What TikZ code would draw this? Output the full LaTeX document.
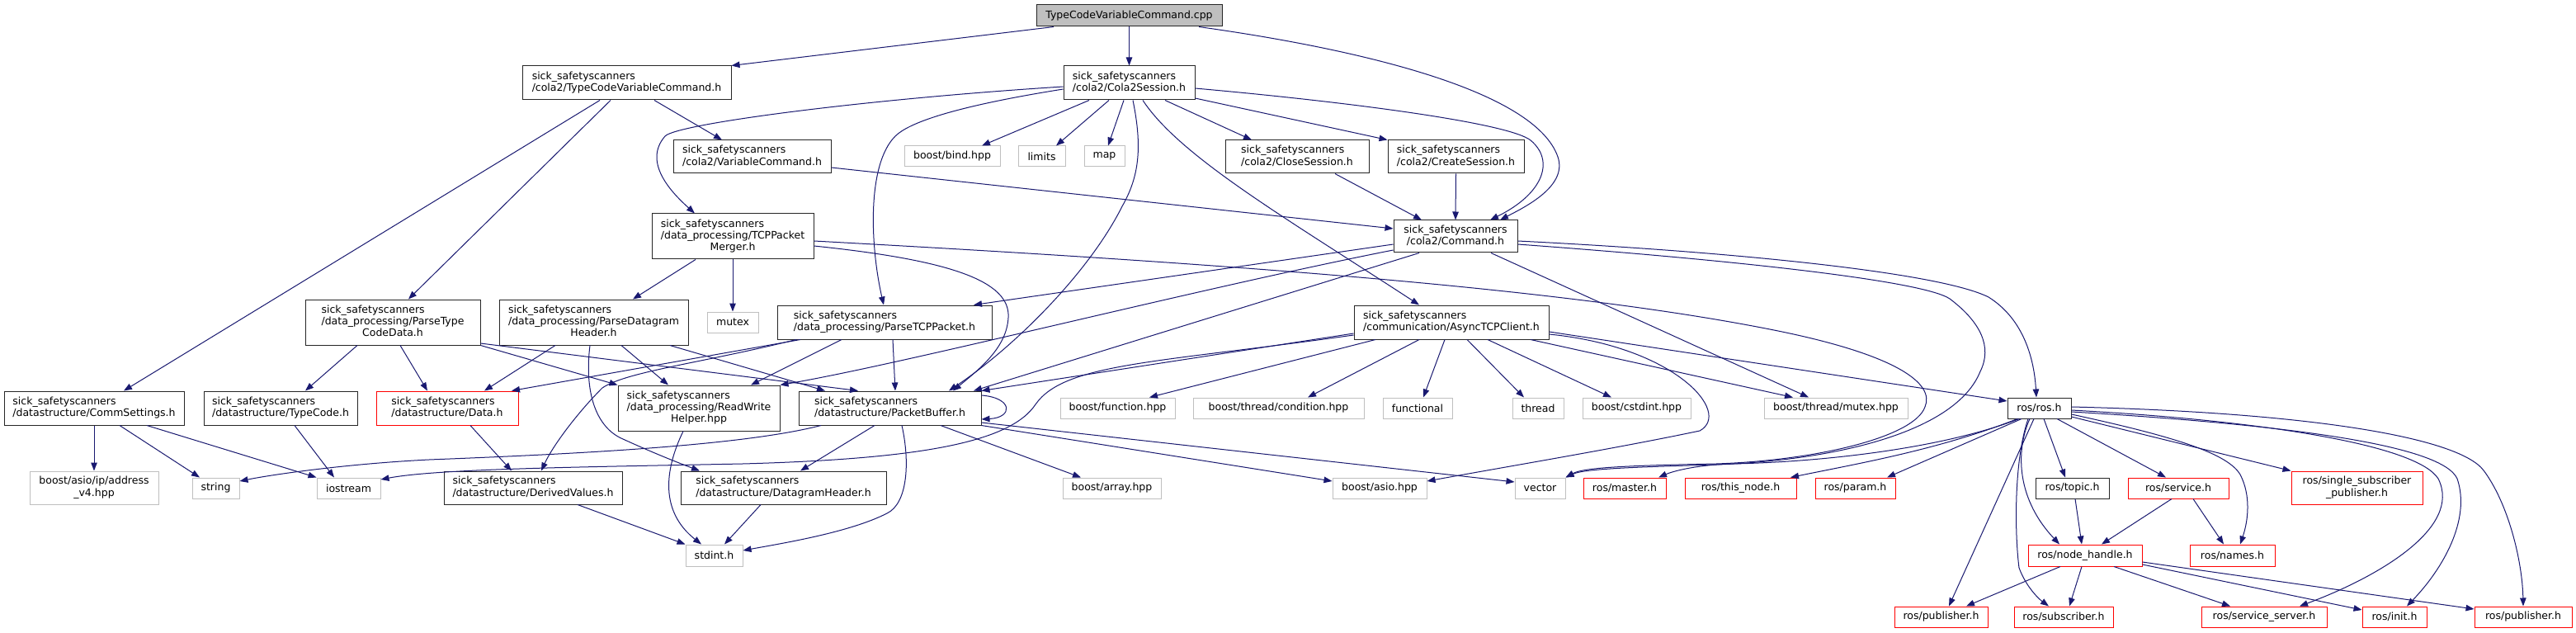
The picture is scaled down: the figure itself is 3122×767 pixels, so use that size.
\documentclass[tikz,border=0pt]{standalone}
\usepackage{fontspec}
\setmainfont{DejaVu Sans}
\usetikzlibrary{arrows.meta}
\definecolor{edgec}{HTML}{191970}
\definecolor{extc}{HTML}{BFBFBF}
\definecolor{truncc}{HTML}{FF0000}
\definecolor{docc}{HTML}{262626}
\newcommand{\twoln}[2]{\begin{tabular}{@{}l@{}}#1\\\multicolumn{1}{@{}c@{}}{#2}\end{tabular}}
\newcommand{\threeln}[3]{\begin{tabular}{@{}l@{}}#1\\#2\\\multicolumn{1}{@{}c@{}}{#3}\end{tabular}}
\begin{document}
\begin{tikzpicture}[x=1pt,y=-1pt,
  font=\fontsize{12.5}{14.3}\selectfont,
  box/.style={rectangle,inner sep=0pt,line width=1pt,fill=white,text=black},
  doc/.style={box,draw=docc},
  ext/.style={box,draw=extc},
  trunc/.style={box,draw=truncc},
  sz/.style 2 args={minimum width=#1pt,minimum height=#2pt},
  edge/.style={draw=edgec,line width=1pt,-{Triangle[length=10pt,width=7.5pt]}}]
\useasboundingbox (0,0) rectangle (3122,767);
\fill[white] (0,0) rectangle (3122,767);
% nodes
\node[doc,fill=extc,sz={225}{26}] (root) at (1368.5,19) {TypeCodeVariableCommand.cpp};
\node[doc,sz={253}{41}] (tcvh) at (759.5,100.5) {\twoln{sick\_safetyscanners}{/cola2/TypeCodeVariableCommand.h}};
\node[doc,sz={159}{41}] (c2s) at (1368.5,100.5) {\twoln{sick\_safetyscanners}{/cola2/Cola2Session.h}};
\node[ext,sz={116}{25}] (bind) at (1154,189.5) {boost/bind.hpp};
\node[ext,sz={57}{25}] (limits) at (1262.5,189.5) {limits};
\node[ext,sz={49}{25}] (map) at (1338.5,189.5) {map};
\node[doc,sz={174}{40}] (close) at (1572,190) {\twoln{sick\_safetyscanners}{/cola2/CloseSession.h}};
\node[doc,sz={165}{40}] (create) at (1764.5,190) {\twoln{sick\_safetyscanners}{/cola2/CreateSession.h}};
\node[doc,sz={191}{40}] (varcmd) at (911.5,190) {\twoln{sick\_safetyscanners}{/cola2/VariableCommand.h}};
\node[doc,sz={150}{39}] (cmd) at (1764,286.5) {\twoln{sick\_safetyscanners}{/cola2/Command.h}};
\node[doc,sz={196}{55}] (merger) at (888,286.5) {\threeln{sick\_safetyscanners}{/data\_processing/TCPPacket}{Merger.h}};
\node[ext,sz={62}{25}] (mutex) at (888,390.5) {mutex};
\node[doc,sz={260}{41}] (ptcp) at (1072,390.5) {\twoln{sick\_safetyscanners}{/data\_processing/ParseTCPPacket.h}};
\node[doc,sz={229}{55}] (pdh) at (719.5,390.5) {\threeln{sick\_safetyscanners}{/data\_processing/ParseDatagram}{Header.h}};
\node[doc,sz={212}{55}] (ptcd) at (476,390.5) {\threeln{sick\_safetyscanners}{/data\_processing/ParseType}{CodeData.h}};
\node[doc,sz={236}{41}] (async) at (1759,390.5) {\twoln{sick\_safetyscanners}{/communication/AsyncTCPClient.h}};
\node[doc,sz={77}{25}] (ros) at (2471.5,494.5) {ros/ros.h};
\node[doc,sz={218}{41}] (comm) at (114,494.5) {\twoln{sick\_safetyscanners}{/datastructure/CommSettings.h}};
\node[doc,sz={186}{41}] (typecode) at (340,494.5) {\twoln{sick\_safetyscanners}{/datastructure/TypeCode.h}};
\node[trunc,sz={172}{41}] (data) at (542,494.5) {\twoln{sick\_safetyscanners}{/datastructure/Data.h}};
\node[doc,sz={196}{55}] (rwh) at (847,494.5) {\threeln{sick\_safetyscanners}{/data\_processing/ReadWrite}{Helper.hpp}};
\node[doc,sz={221}{41}] (pbuf) at (1078.5,494.5) {\twoln{sick\_safetyscanners}{/datastructure/PacketBuffer.h}};
\node[ext,sz={139}{25}] (function) at (1354.5,494.5) {boost/function.hpp};
\node[ext,sz={207}{25}] (cond) at (1549.5,494.5) {boost/thread/condition.hpp};
\node[ext,sz={84}{25}] (functional) at (1718,494.5) {functional};
\node[ext,sz={62}{25}] (thread) at (1864,494.5) {thread};
\node[ext,sz={131}{25}] (cstdint) at (1983.5,494.5) {boost/cstdint.hpp};
\node[ext,sz={174}{25}] (bmutex) at (2225,494.5) {boost/thread/mutex.hpp};
\node[ext,sz={156}{40}] (addr) at (114,591) {\twoln{boost/asio/ip/address}{\_v4.hpp}};
\node[ext,sz={57}{25}] (string) at (261.5,591.5) {string};
\node[ext,sz={77}{25}] (iostream) at (422.5,591.5) {iostream};
\node[doc,sz={216}{40}] (derived) at (646,591) {\twoln{sick\_safetyscanners}{/datastructure/DerivedValues.h}};
\node[doc,sz={249}{40}] (dgh) at (949.5,591) {\twoln{sick\_safetyscanners}{/datastructure/DatagramHeader.h}};
\node[ext,sz={69}{26}] (stdint) at (865.5,673) {stdint.h};
\node[ext,sz={119}{25}] (array) at (1347.5,591.5) {boost/array.hpp};
\node[ext,sz={114}{25}] (asio) at (1672,591.5) {boost/asio.hpp};
\node[ext,sz={61}{25}] (vector) at (1866.5,591.5) {vector};
\node[trunc,sz={100}{25}] (master) at (1969,591.5) {ros/master.h};
\node[trunc,sz={135}{25}] (thisnode) at (2109.5,591.5) {ros/this\_node.h};
\node[trunc,sz={97}{25}] (param) at (2248.5,591.5) {ros/param.h};
\node[doc,sz={89}{25}] (topic) at (2511.5,591.5) {ros/topic.h};
\node[trunc,sz={122}{25}] (service) at (2640,591.5) {ros/service.h};
\node[trunc,sz={159}{40}] (ssp) at (2856.5,591) {\twoln{ros/single\_subscriber}{\_publisher.h}};
\node[trunc,sz={138}{26}] (nh) at (2527,673) {ros/node\_handle.h};
\node[trunc,sz={103}{26}] (names) at (2705.5,673) {ros/names.h};
\node[trunc,sz={113}{25}] (pub1) at (2352.5,747.5) {ros/publisher.h};
\node[trunc,sz={120}{25}] (sub) at (2501,747.5) {ros/subscriber.h};
\node[trunc,sz={152}{25}] (ss) at (2744,747.5) {ros/service\_server.h};
\node[trunc,sz={78}{25}] (init) at (2902,747.5) {ros/init.h};
\node[trunc,sz={118}{25}] (pub2) at (3058,747.5) {ros/publisher.h};
% edges: root
\draw[edge] (root.south -| 1277,0) -- (tcvh.north east);
\draw[edge] (root.south) -- (c2s.north);
\draw[edge] (root.south -| 1453,0) .. controls (1650,60) and (1860,110) .. (1888,190) .. controls (1900,225) and (1850,250) .. (cmd.north -| 1818,0);
% Cola2Session
\draw[edge] (c2s.south -| 1320,0) -- (bind.north -| 1190,0);
\draw[edge] (c2s.south -| 1344,0) -- (limits.north -| 1280,0);
\draw[edge] (c2s.south -| 1362,0) -- (map.north -| 1343,0);
\draw[edge] (c2s.south -| 1412,0) -- (close.north -| 1517,0);
\draw[edge] (c2s.east |- 0,119) -- (create.north west);
\draw[edge] (c2s.east |- 0,107) .. controls (1650,125) and (1830,150) .. (1855,170) .. controls (1885,195) and (1870,235) .. (cmd.north -| 1806,0);
\draw[edge] (c2s.west |- 0,105) .. controls (1050,120) and (820,150) .. (806,165) .. controls (780,195) and (810,230) .. (merger.north -| 842,0);
\draw[edge] (c2s.west |- 0,108) .. controls (1150,130) and (1100,150) .. (1085,165) .. controls (1050,200) and (1055,300) .. (ptcp.north -| 1071,0);
\draw[edge] (c2s.south -| 1373,0) .. controls (1385,180) and (1380,215) .. (1360,250) .. controls (1320,330) and (1230,420) .. (pbuf.north -| 1150,0);
\draw[edge] (c2s.south -| 1385,0) .. controls (1430,190) and (1560,265) .. (async.north -| 1720,0);
% TypeCodeVariableCommand.h
\draw[edge] (tcvh.south -| 727,0) -- (comm.north -| 150,0);
\draw[edge] (tcvh.south -| 740,0) -- (ptcd.north -| 495,0);
\draw[edge] (tcvh.south -| 793,0) -- (varcmd.north -| 875,0);
% cola2 commands
\draw[edge] (varcmd.east |- 0,203) -- (cmd.west |- 0,277);
\draw[edge] (close.south -| 1618,0) -- (cmd.north -| 1723,0);
\draw[edge] (create.south) -- (cmd.north);
% TCPPacketMerger
\draw[edge] (merger.south -| 843,0) -- (pdh.north -| 767,0);
\draw[edge] (merger.south) -- (mutex.north);
\draw[edge] (merger.east |- 0,292) .. controls (1500,320) and (1900,350) .. (2150,400) .. controls (2300,430) and (2345,465) .. (2333,493) .. controls (2320,530) and (2200,558) .. (2080,562) .. controls (1980,564) and (1920,566) .. (vector.north east);
\draw[edge] (merger.east |- 0,298) .. controls (1150,315) and (1225,340) .. (1222,385) .. controls (1220,420) and (1190,445) .. (pbuf.north -| 1155,0);
% Command
\draw[edge] (cmd.east |- 0,292) .. controls (2100,305) and (2350,330) .. (2410,360) .. controls (2450,385) and (2465,430) .. (ros.north -| 2468,0);
\draw[edge] (cmd.east |- 0,296) .. controls (2100,315) and (2330,340) .. (2363,362) .. controls (2400,390) and (2415,420) .. (2400,450) .. controls (2370,525) and (2220,558) .. (2080,563) .. controls (1980,566) and (1920,568) .. (vector.north east);
\draw[edge] (cmd.south -| 1807,0) -- (bmutex.north -| 2192,0);
\draw[edge] (cmd.west |- 0,296) -- (ptcp.north -| 1180,0);
\draw[edge] (cmd.west |- 0,303) .. controls (1450,350) and (1100,440) .. (rwh.north east);
\draw[edge] (cmd.south -| 1720,0) -- (pbuf.north -| 1180,0);
% AsyncTCPClient
\draw[edge] (async.west |- 0,404) -- (pbuf.north east);
\draw[edge] (async.west |- 0,406) .. controls (1400,440) and (1290,440) .. (1255,490) .. controls (1225,535) and (1120,556) .. (900,562) .. controls (700,566) and (530,568) .. (iostream.east |- 0,581);
\draw[edge] (async.south -| 1667,0) -- (function.north -| 1393,0);
\draw[edge] (async.south -| 1720,0) -- (cond.north -| 1585,0);
\draw[edge] (async.south -| 1751,0) -- (functional.north -| 1725,0);
\draw[edge] (async.south -| 1778,0) -- (thread.north -| 1847,0);
\draw[edge] (async.south -| 1803,0) -- (cstdint.north -| 1953,0);
\draw[edge] (async.south -| 1855,0) -- (bmutex.north -| 2173,0);
\draw[edge] (async.east |- 0,402) -- (ros.west |- 0,486);
\draw[edge] (async.east |- 0,405) .. controls (2030,420) and (2100,500) .. (2060,522) .. controls (1960,543) and (1840,563) .. (asio.east |- 0,583);
% PacketBuffer
\draw[edge] (pbuf.east |- 0,479) .. controls (1228,482) and (1228,506) .. (pbuf.east |- 0,508);
\draw[edge] (pbuf.south -| 1093,0) .. controls (1103,560) and (1100,610) .. (1075,622) .. controls (1030,645) and (950,658) .. (stdint.east |- 0,667);
\draw[edge] (pbuf.south -| 1140,0) -- (array.north -| 1310,0);
\draw[edge] (pbuf.east |- 0,512) -- (vector.west |- 0,584);
\draw[edge] (pbuf.south east) -- (asio.west |- 0,583);
\draw[edge] (pbuf.south -| 1060,0) -- (dgh.north -| 970,0);
\draw[edge] (pbuf.south -| 995,0) .. controls (900,540) and (700,550) .. (520,557) .. controls (420,562) and (330,575) .. (string.east |- 0,583);
% ParseTCPPacket
\draw[edge] (ptcp.south -| 1082,0) -- (pbuf.north -| 1085,0);
\draw[edge] (ptcp.south -| 1020,0) -- (rwh.north -| 910,0);
\draw[edge] (ptcp.south -| 970,0) -- (data.north -| 620,0);
\draw[edge] (ptcp.south -| 965,0) .. controls (850,440) and (760,450) .. (730,470) .. controls (700,500) and (670,540) .. (derived.north -| 656,0);
% ParseDatagramHeader
\draw[edge] (pdh.south -| 673,0) -- (data.north -| 587,0);
\draw[edge] (pdh.south -| 753,0) -- (rwh.north -| 810,0);
\draw[edge] (pdh.south -| 715,0) .. controls (708,475) and (722,518) .. (755,532) .. controls (790,548) and (820,560) .. (dgh.north -| 848,0);
\draw[edge] (pdh.south -| 812,0) -- (pbuf.north -| 1000,0);
% ParseTypeCodeData
\draw[edge] (ptcd.south -| 433,0) -- (typecode.north -| 370,0);
\draw[edge] (ptcd.south -| 485,0) -- (data.north -| 518,0);
\draw[edge] (ptcd.south east) -- (rwh.north west);
\draw[edge] (ptcd.east |- 0,416) -- (pbuf.north -| 1040,0);
% datastructures
\draw[edge] (data.south -| 570,0) -- (derived.north -| 620,0);
\draw[edge] (derived.south -| 700,0) -- (stdint.north west);
\draw[edge] (dgh.south -| 922,0) -- (stdint.north -| 878,0);
\draw[edge] (rwh.south -| 828,0) .. controls (805,570) and (800,620) .. (stdint.north -| 850,0);
\draw[edge] (comm.south) -- (addr.north);
\draw[edge] (comm.south -| 145,0) -- (string.north -| 242,0);
\draw[edge] (comm.south -| 178,0) -- (iostream.north west);
\draw[edge] (typecode.south -| 357,0) -- (iostream.north -| 405,0);
% ros
\draw[edge] (ros.south -| 2447,0) .. controls (2350,545) and (2200,560) .. (2100,562) .. controls (2060,563) and (2030,570) .. (master.north -| 2010,0);
\draw[edge] (ros.south -| 2445,0) .. controls (2350,545) and (2250,562) .. (thisnode.north -| 2170,0);
\draw[edge] (ros.south -| 2450,0) -- (param.north -| 2287,0);
\draw[edge] (ros.south -| 2477,0) -- (topic.north -| 2503,0);
\draw[edge] (ros.south -| 2493,0) -- (service.north -| 2625,0);
\draw[edge] (ros.south -| 2460,0) .. controls (2445,540) and (2440,600) .. (nh.north -| 2496,0);
\draw[edge] (ros.south -| 2465,0) -- (pub1.north -| 2362,0);
\draw[edge] (ros.south -| 2458,0) .. controls (2440,560) and (2442,650) .. (2447,688) .. controls (2455,710) and (2470,725) .. (sub.north -| 2483,0);
\draw[edge] (ros.east |- 0,502) .. controls (2640,530) and (2700,550) .. (2715,575) .. controls (2728,600) and (2725,630) .. (names.north -| 2715,0);
\draw[edge] (ros.east |- 0,505) -- (ssp.north west);
\draw[edge] (ros.east |- 0,497) .. controls (2750,510) and (2930,540) .. (2955,580) .. controls (2985,640) and (2880,700) .. (ss.north -| 2787,0);
\draw[edge] (ros.east |- 0,499) .. controls (2780,515) and (2960,540) .. (2978,580) .. controls (2995,630) and (2960,690) .. (init.north -| 2917,0);
\draw[edge] (ros.east |- 0,493) .. controls (2800,500) and (2980,530) .. (3010,570) .. controls (3040,610) and (3057,680) .. (pub2.north);
\draw[edge] (topic.south -| 2515,0) -- (nh.north -| 2523,0);
\draw[edge] (service.south -| 2632,0) -- (nh.north -| 2547,0);
\draw[edge] (service.south -| 2658,0) -- (names.north -| 2695,0);
\draw[edge] (nh.south -| 2497,0) -- (pub1.north -| 2383,0);
\draw[edge] (nh.south -| 2523,0) -- (sub.north -| 2508,0);
\draw[edge] (nh.south -| 2562,0) -- (ss.north -| 2703,0);
\draw[edge] (nh.east |- 0,684) -- (init.west |- 0,739);
\draw[edge] (nh.east |- 0,681) -- (pub2.west |- 0,738);
\end{tikzpicture}
\end{document}
